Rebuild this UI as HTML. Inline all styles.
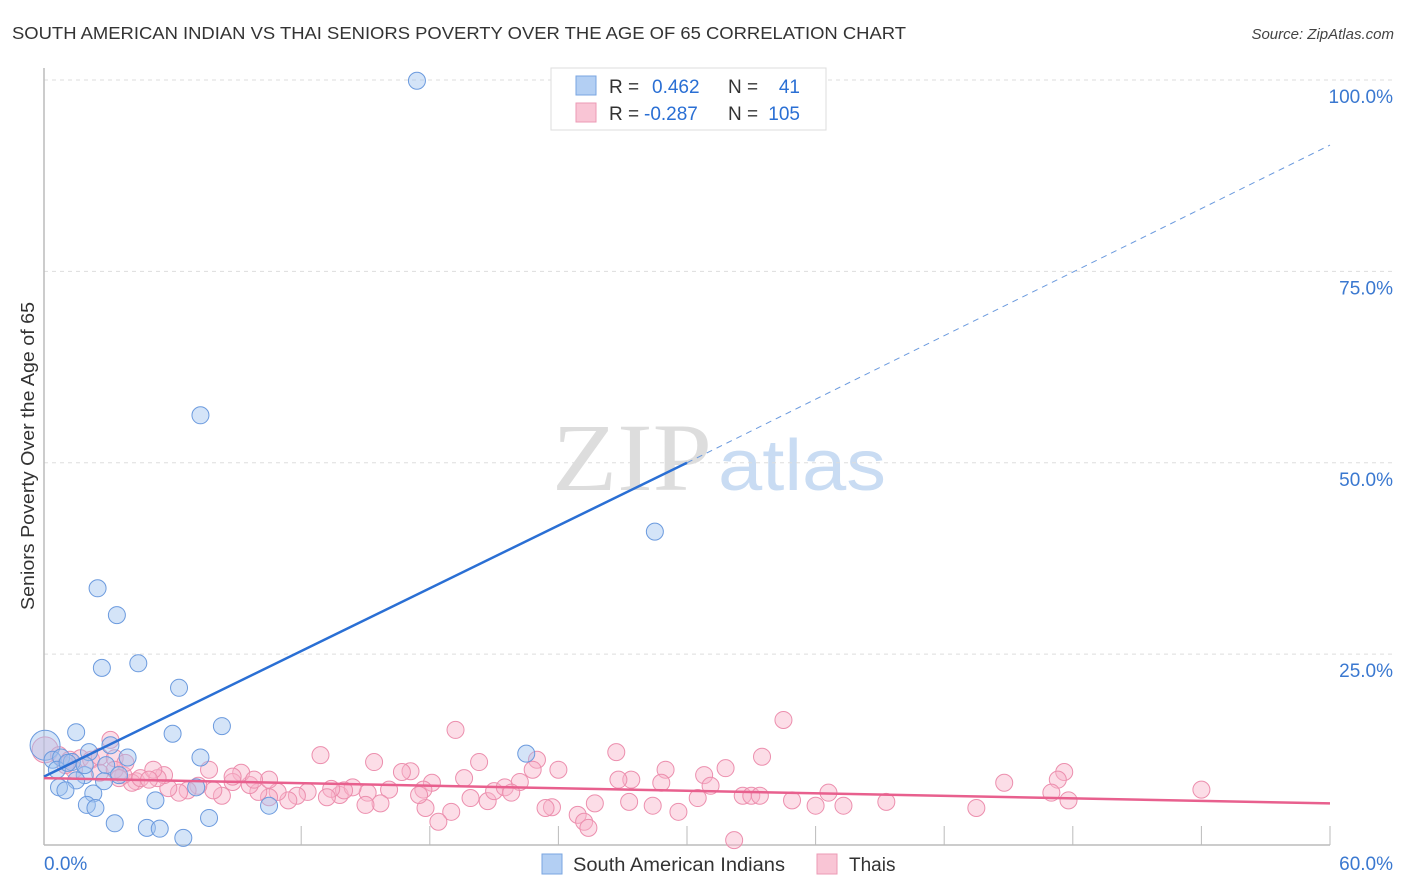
<!DOCTYPE html>
<html><head><meta charset="utf-8"><style>
body{margin:0;background:#fff;font-family:"Liberation Sans",sans-serif;}
svg{display:block}
</style></head><body>
<svg id="chart" width="1406" height="892" xmlns="http://www.w3.org/2000/svg">
<text x="12" y="39" font-size="17.5" fill="#333" textLength="894" lengthAdjust="spacingAndGlyphs">SOUTH AMERICAN INDIAN VS THAI SENIORS POVERTY OVER THE AGE OF 65 CORRELATION CHART</text>
<text x="1394" y="39" font-size="15" fill="#444" font-style="italic" text-anchor="end">Source: ZipAtlas.com</text>
<g>
<text x="552" y="490" font-size="96" font-family="Liberation Serif,serif" fill="#ddd" textLength="160" lengthAdjust="spacingAndGlyphs">ZIP</text>
<text x="718" y="490" font-size="72" fill="#c9dcf3" textLength="168" lengthAdjust="spacingAndGlyphs">atlas</text>
</g>
<g id="grid"></g>
<g id="axes"></g>
<g id="marks"></g>
<g>
<rect x="551" y="68" width="275" height="62" fill="#fff" stroke="#ddd"/>
<rect x="576" y="76" width="20" height="19" fill="#b3cff3" stroke="#7aa6e0"/>
<rect x="576" y="103" width="20" height="19" fill="#f9c5d5" stroke="#ec9ab5"/>
<text x="609" y="93" font-size="19" fill="#333">R = </text><text x="652" y="93" font-size="19" fill="#2a6fd4">0.462</text>
<text x="728" y="93" font-size="19" fill="#333">N = </text><text x="800" y="93" font-size="19" fill="#2a6fd4" text-anchor="end">41</text>
<text x="609" y="120" font-size="19" fill="#333">R = </text><text x="644" y="120" font-size="19" fill="#2a6fd4">-0.287</text>
<text x="728" y="120" font-size="19" fill="#333">N = </text><text x="800" y="120" font-size="19" fill="#2a6fd4" text-anchor="end">105</text>
</g>
<g>
<rect x="542" y="854" width="20" height="20" fill="#b3cff3" stroke="#7aa6e0"/>
<text x="573" y="871" font-size="19" fill="#333" textLength="212" lengthAdjust="spacingAndGlyphs">South American Indians</text>
<rect x="817" y="854" width="20" height="20" fill="#f9c5d5" stroke="#ec9ab5"/>
<text x="849" y="871" font-size="19" fill="#333">Thais</text>
</g>
<text transform="translate(34,456) rotate(-90)" font-size="18.5" fill="#333" text-anchor="middle" textLength="308" lengthAdjust="spacingAndGlyphs">Seniors Poverty Over the Age of 65</text>
</svg>
<script>
const blueX=[0.05,17.4,7.3,28.5,2.5,3.4,2.7,4.4,6.3,8.3,1.5,6.0,22.5,7.3,3.9,2.1,3.1,0.4,0.8,1.3,1.9,2.9,1.5,0.7,1.0,2.3,2.0,2.4,5.2,10.5,3.3,4.8,5.4,7.7,6.5,7.1,1.9,0.6,3.5,1.1,2.8];
const blueY=[13.1,99.9,56.2,41.0,33.6,30.1,23.2,23.8,20.6,15.6,14.8,14.6,12.0,11.5,11.5,12.2,13.1,11.2,11.5,10.9,9.2,10.5,8.5,7.6,7.2,6.8,5.3,4.9,5.9,5.2,2.9,2.3,2.2,3.6,1.0,7.6,10.5,9.9,9.2,10.8,8.4];
const pinkX=[0.05,19.2,26.7,34.5,33.5,20.3,15.4,12.9,23.0,22.8,24.0,29.0,31.8,47.6,47.3,44.8,54.0,47.0,30.8,27.4,26.8,28.8,31.1,32.6,33.0,33.4,36.6,39.3,37.3,36.0,34.9,30.5,27.3,28.4,29.6,32.2,25.7,24.9,25.2,25.4,23.7,23.4,20.7,19.9,21.0,21.5,22.2,21.8,19.6,18.1,17.7,17.1,16.7,16.1,15.1,15.7,15.0,13.8,14.4,14.0,13.4,13.2,12.3,11.8,11.4,10.9,10.5,10.0,9.6,9.2,10.5,7.7,8.3,7.9,8.8,7.2,6.7,6.3,5.8,5.6,5.3,4.3,4.1,3.7,19.0,17.8,18.4,43.5,47.8,17.5,3.1,0.7,1.2,1.7,2.2,2.6,3.3,3.8,1.4,1.0,2.6,3.3,3.5,4.5,5.1,4.9,8.8,9.8];
const pinkY=[12.5,15.1,12.2,16.4,11.6,10.9,10.9,11.8,11.2,9.9,9.9,9.9,10.1,9.6,8.6,8.2,7.3,6.9,9.2,8.6,8.6,8.2,7.8,6.5,6.5,6.5,6.9,5.7,5.2,5.2,5.9,6.2,5.7,5.2,4.4,0.7,5.5,4.0,3.1,2.3,5.0,4.9,5.8,6.2,7.1,7.6,8.3,6.9,8.8,8.2,7.3,9.7,9.6,7.3,6.9,5.5,5.3,6.6,7.6,7.2,7.4,6.3,7.0,6.5,5.9,7.0,6.3,7.0,7.9,9.5,8.6,9.9,6.5,7.2,8.3,7.8,7.2,6.9,7.5,9.2,8.8,8.4,8.2,9.2,4.4,4.9,3.1,4.9,5.9,6.6,13.8,11.8,11.2,11.4,11.2,11.6,11.4,10.8,9.9,10.5,9.5,9.9,8.8,8.8,9.9,8.6,9.0,8.6];
const blueTrend=[9.0,50.0,91.5]; // y at x=0, 30, 60
const pinkTrend=[8.8,5.5];       // y at x=0, 60
const xTicks=["0.0%","60.0%"];
const yTicks=[25,50,75,100];
const yTickLabels=["25.0%","50.0%","75.0%","100.0%"];

const NS="http://www.w3.org/2000/svg";
const X0=44,X1=1330,Y0=845.5,Y100=80;
const sx=v=>X0+(X1-X0)*v/60;
const sy=v=>Y0-(Y0-Y100)*v/100;
function mk(tag,attrs,parent){const e=document.createElementNS(NS,tag);for(const k in attrs)e.setAttribute(k,attrs[k]);document.getElementById(parent).appendChild(e);return e;}

yTicks.forEach((t,i)=>{
  const g=mk('line',{x1:X0,x2:1394,y1:sy(t),y2:sy(t),stroke:'#ddd','stroke-dasharray':'4,4'},'grid');
  
  
  const l=mk('text',{x:1393,y:sy(t)+23,'font-size':19,fill:'#3a78d0','text-anchor':'end'},'axes');
  l.textContent=yTickLabels[i];
  
  
});
const ax=mk('line',{x1:X0,x2:X1,y1:845,y2:845,stroke:'#bbb','stroke-width':1.5},'axes');


const ay=mk('line',{x1:X0,x2:X0,y1:68,y2:845,stroke:'#bbb','stroke-width':1.5},'axes');


for(let v=12;v<=60;v+=6){
  const t=mk('line',{x1:sx(v),x2:sx(v),y1:826,y2:845,stroke:'#bbb'},'axes');
  
  
}
const xl0=mk('text',{x:44,y:870,'font-size':19,fill:'#3a78d0'},'axes');xl0.textContent=xTicks[0];


const xl1=mk('text',{x:1393,y:870,'font-size':19,fill:'#3a78d0','text-anchor':'end'},'axes');xl1.textContent=xTicks[1];



pinkX.forEach((x,i)=>{
  const c=mk('circle',{cx:sx(x),cy:sy(pinkY[i]),r:i===0?13:8.5,fill:'rgba(248,180,202,0.45)',stroke:'#ec8fae','stroke-width':1},'marks');
  
  
});
blueX.forEach((x,i)=>{
  const c=mk('circle',{cx:sx(x),cy:sy(blueY[i]),r:i===0?15:8.5,fill:'rgba(160,196,240,0.45)',stroke:'#6b9ade','stroke-width':1},'marks');
  
  
});
const bl=mk('line',{x1:sx(0),y1:sy(blueTrend[0]),x2:sx(30),y2:sy(blueTrend[1]),stroke:'#2a6fd4','stroke-width':2.5},'marks');


const bd=mk('line',{x1:sx(30),y1:sy(blueTrend[1]),x2:sx(60),y2:sy(blueTrend[2]),stroke:'#6b9ade','stroke-width':1,'stroke-dasharray':'6,5'},'marks');


const pl=mk('line',{x1:sx(0),y1:sy(pinkTrend[0]),x2:sx(60),y2:sy(pinkTrend[1]),stroke:'#e8608e','stroke-width':2.5},'marks');


</script>
</body></html>
